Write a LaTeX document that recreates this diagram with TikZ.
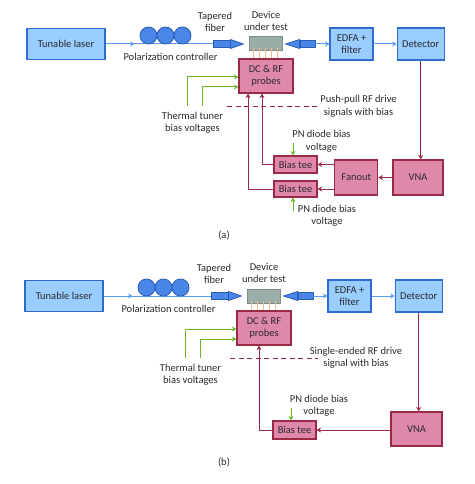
\documentclass[tikz,border=0pt]{standalone}
\usepackage{fontspec}
\setmainfont{Carlito}
\usepackage{xcolor}
\definecolor{ink}{HTML}{2B2B2B}
\definecolor{skyfill}{HTML}{99CCFF}
\definecolor{skyline}{HTML}{2F6CCF}
\definecolor{beamblue}{HTML}{5A9BF0}
\definecolor{pcfill}{HTML}{4A86E8}
\definecolor{pcline}{HTML}{2B5DB5}
\definecolor{dutfill}{HTML}{9AADA9}
\definecolor{dutline}{HTML}{7D8E8B}
\definecolor{peach}{HTML}{F7B98A}
\definecolor{rose}{HTML}{DF88AA}
\definecolor{wine}{HTML}{9A2A45}
\definecolor{leaf}{HTML}{6AB82B}
\usepackage{tikz}
\usetikzlibrary{arrows.meta,positioning,calc,decorations.markings}
\tikzset{
  >={Stealth[length=4.5pt,width=5pt]},
  font=\fontsize{10.5}{12.5}\selectfont,
  box/.style={draw,line width=1.2pt,inner sep=0pt,align=center,text=ink},
  opt/.style={box,fill=skyfill,draw=skyline},
  rf/.style={box,fill=rose,draw=wine},
  dut/.style={draw=dutline,fill=dutfill,line width=1pt,inner sep=0pt,
              minimum width=33pt,minimum height=14pt},
  fib/.style={draw=pcline,fill=pcfill,line width=0.8pt,inner sep=0pt,minimum height=7pt},
  fibre/.style={draw=pcline,fill=pcfill,line width=0.8pt},
  pc/.style={circle,draw=pcline,fill=pcfill,line width=0.8pt,inner sep=0pt,minimum size=17pt},
  beam/.style={line width=1pt,draw=beamblue},
  beama/.style={beam,->},
  midarrow/.style={postaction={decorate},decoration={markings,
      mark=at position #1 with {\arrow[beamblue]{Stealth[length=4.5pt,width=5pt]}}}},
  rfl/.style={->,line width=1pt,draw=wine},
  tune/.style={->,line width=1pt,draw=leaf},
  probe/.style={draw=peach,line width=1pt},
  seam/.style={draw=wine,line width=1pt,dash pattern=on 5pt off 3.5pt},
  lbl/.style={align=center,text=ink,inner sep=0pt},
}

\begin{document}
\begin{tikzpicture}[x=1pt,y=-1pt]
  \useasboundingbox (0,0) rectangle (474,484);

  % (a) push-pull drive
  \node[opt,minimum width=78pt,minimum height=31pt] (laser) at (66,44) {Tunable laser};
  \node[fib,minimum width=17pt] (fibl) at (221.5,44) {};
  \node[fib,minimum width=15pt] (fibr) at (307.5,44) {};
  \node[dut] (dut) at (265.5,44) {};
  \node[opt,minimum width=43pt,minimum height=32pt] (edfa) at (351.5,44) {EDFA +\\filter};
  \node[opt,minimum width=47pt,minimum height=32pt,right=23pt of edfa] (det) {Detector};
  \node[rf,minimum width=54pt,minimum height=34pt] (dcrf) at (266,76) {DC \& RF\\probes};
  \draw[beam,midarrow=0.27] (laser) -- (fibl);
  \foreach \i in {0,1,2}
    \node[pc] (pc\i) at (148.5+17*\i,35.5) {};
  \draw[fibre] (fibl.east) ++(0,-4.5) -- ++(13,4.5) -- ++(-13,4.5) -- cycle;
  \draw[fibre] (fibr.west) ++(0,-4.5) -- ++(-14,4.5) -- ++(14,4.5) -- cycle;
  \draw[beama] (fibr) -- (edfa);
  \draw[beama] (edfa) -- (det);
  \foreach \k in {-2,...,2}
    \draw[probe] ([xshift={\k*6pt},yshift=3pt]dut.south) -- ([xshift={\k*6pt}]dut.south |- dcrf.north);
  \node[lbl] (tapa) at (215,22) {Tapered\\fiber};
  \node[lbl] (duta) at (266,21) {Device\\under test};
  \node[lbl] (pola) at (170.5,57) {Polarization controller};

  \coordinate (tha1) at (187,106);
  \coordinate (tha2) at (202,106);
  \draw[tune] (tha1) |- ([yshift=-1pt]dcrf.west);
  \draw[tune] (tha2) |- ([yshift=-11pt]dcrf.west);
  \node[lbl] (thla) at (192.5,123) {Thermal tuner\\bias voltages};
  \coordinate (sa1) at (227,107);
  \coordinate (sa2) at (320,107);
  \draw[seam] (sa1) -- (sa2);
  \node[lbl] (pushlbl) at (358.5,106.5) {Push-pull RF drive\\signals with bias};

  \node[rf,minimum width=50pt,minimum height=35pt] (vna) at (418,177.5) {VNA};
  \node[rf,minimum width=43pt,minimum height=35pt,left=14pt of vna] (fan) {Fanout};
  \node[rf,minimum width=43pt,minimum height=17pt] (bt1) at (295.5,164.5) {Bias tee};
  \node[rf,minimum width=43pt,minimum height=16pt] (bt2) at (295.5,189) {Bias tee};
  \draw[rfl] (det.south) -- (det.south |- vna.north);
  \draw[rfl] (vna) -- (fan);
  \draw[rfl] (fan.west |- bt1) -- (bt1);
  \draw[rfl] (fan.west |- bt2) -- (bt2);
  \draw[rfl] (bt1.west) -| ([xshift=-4pt]dcrf.south);
  \draw[rfl] (bt2.west) -| ([xshift=-18pt]dcrf.south);
  \coordinate (pna1) at (293,143);
  \coordinate (pna2) at (293,211);
  \draw[tune] (pna1) -- (pna1 |- bt1.north);
  \draw[tune] (pna2) -- (pna2 |- bt2.south);
  \node[lbl] (pnl1) at (321.5,141.5) {PN diode bias\\voltage};
  \node[lbl] (pnl2) at (327,216) {PN diode bias\\voltage};
  \node[lbl] (capa) at (224,235) {(a)};

  % (b) single-ended drive
  \begin{scope}[shift={(-2,252)}]
  \node[opt,minimum width=78pt,minimum height=31pt] (laserb) at (66,44) {Tunable laser};
  \node[fib,minimum width=17pt] (fiblb) at (221.5,44) {};
  \node[fib,minimum width=15pt] (fibrb) at (307.5,44) {};
  \node[dut] (dutb) at (265.5,44) {};
  \node[opt,minimum width=43pt,minimum height=32pt] (edfab) at (351.5,44) {EDFA +\\filter};
  \node[opt,minimum width=47pt,minimum height=32pt,right=23pt of edfab] (detb) {Detector};
  \node[rf,minimum width=54pt,minimum height=34pt] (dcrfb) at (266,76) {DC \& RF\\probes};
  \draw[beam,midarrow=0.27] (laserb) -- (fiblb);
  \foreach \i in {0,1,2}
    \node[pc] (pcb\i) at (148.5+17*\i,35.5) {};
  \draw[fibre] (fiblb.east) ++(0,-4.5) -- ++(13,4.5) -- ++(-13,4.5) -- cycle;
  \draw[fibre] (fibrb.west) ++(0,-4.5) -- ++(-14,4.5) -- ++(14,4.5) -- cycle;
  \draw[beama] (fibrb) -- (edfab);
  \draw[beama] (edfab) -- (detb);
  \foreach \k in {-2,...,2}
    \draw[probe] ([xshift={\k*6pt},yshift=3pt]dutb.south) -- ([xshift={\k*6pt}]dutb.south |- dcrfb.north);
  \node[lbl] (tapb) at (216,22) {Tapered\\fiber};
  \node[lbl] (dutlb) at (266,21) {Device\\under test};
  \node[lbl] (polb) at (170.5,57) {Polarization controller};

  \coordinate (thb1) at (187,106);
  \coordinate (thb2) at (202,106);
  \draw[tune] (thb1) |- ([yshift=-1pt]dcrfb.west);
  \draw[tune] (thb2) |- ([yshift=-11pt]dcrfb.west);
  \node[lbl] (thlb) at (192.5,123) {Thermal tuner\\bias voltages};
  \coordinate (sb1) at (232,106);
  \coordinate (sb2) at (320,106);
  \draw[seam] (sb1) -- (sb2);
  \node[lbl] (selbl) at (358,106) {Single-ended RF drive\\signal with bias};

  \node[rf,minimum width=51pt,minimum height=34pt] (vnab) at (418.5,177) {VNA};
  \node[rf,minimum width=43pt,minimum height=18pt] (btb) at (296.5,178) {Bias tee};
  \draw[rfl] (detb.south) -- (detb.south |- vnab.north);
  \draw[rfl] (vnab.west |- btb) -- (btb);
  \draw[rfl] (btb.west) -| ([xshift=-5pt]dcrfb.south);
  \coordinate (pnb) at (293,156);
  \draw[tune] (pnb) -- (pnb |- btb.north);
  \node[lbl] (pnlb) at (321,154) {PN diode bias\\voltage};
  \node[lbl] (capb) at (226,210) {(b)};
  \end{scope}
\end{tikzpicture}
\end{document}
